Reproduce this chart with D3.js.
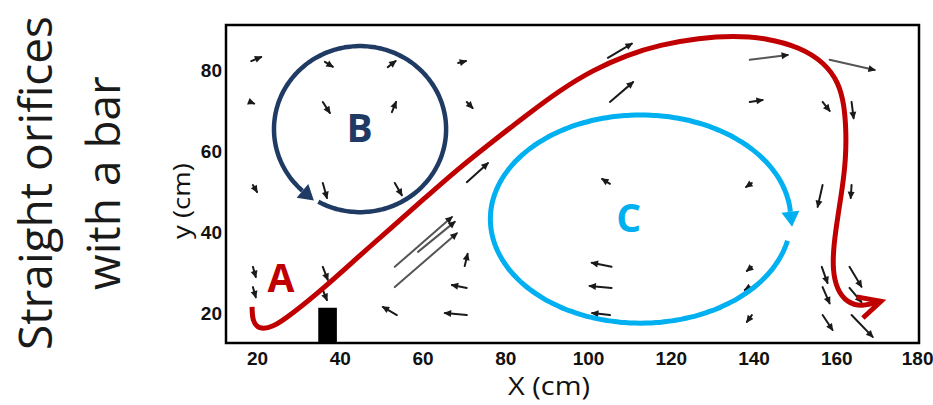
<!DOCTYPE html>
<html>
<head>
<meta charset="utf-8">
<script src="https://cdn.jsdelivr.net/npm/d3@7"></script>
<style>
  body { margin: 0; background: #fff; }
  svg { display: block; }
</style>
</head>
<body>
<div id="chart"></div>
<script>
// axis ticks
var xTicks = [20, 40, 60, 80, 100, 120, 140, 160, 180];
var yTicks = [20, 40, 60, 80];

// flow path A (cm)
var pathAX = [18.8, 18.9, 20.4, 23.6, 28.5, 36.4, 44.4, 52.6, 60.6, 68.6, 77.0, 85.2, 93.2, 101.2, 109.4, 117.3, 127.0, 135.0, 143.2, 151.2, 157.2, 160.6, 161.9, 162.4, 162.3, 161.5, 160.4, 159.4, 159.1, 160.2, 162.6, 166.1, 170.8];
var pathAY = [21.5, 18.0, 16.0, 16.3, 19.8, 26.4, 33.8, 41.2, 48.4, 55.6, 62.4, 68.9, 75.0, 80.0, 83.7, 86.2, 87.9, 88.4, 87.9, 85.6, 81.8, 76.8, 71.5, 65.0, 58.0, 51.0, 44.0, 37.0, 30.6, 25.7, 22.6, 21.5, 22.9];

// recirculation loops B and C (centre, radii in cm, start/end angle in degrees)
var loopNames = ["B", "C"];
var loopCX = [44.9, 112.7];
var loopCY = [65.4, 43.2];
var loopRX = [20.8, 36.3];
var loopRY = [20.5, 25.7];
var loopStart = [119, 12];
var loopEnd = [-228, 356];

// velocity vectors: tail (x, y) and components (u, v), cm
var quiverX = [18.6, 36.4, 51.6, 68.6, 18.8, 35.9, 52.6, 70.7, 19.0, 35.9, 53.3, 70.7, 53.3, 53.3, 58.9, 70.2, 70.7, 53.8, 70.7, 19.0, 19.0, 35.9, 35.9, 104.8, 105.3, 105.3, 139.1, 158.4, 139.1, 156.7, 163.7, 139.6, 156.7, 163.7, 139.6, 139.1, 139.6, 156.5, 156.7, 156.7, 163.2, 163.2, 163.7, 105.7, 105.7, 105.3];
var quiverY = [82.2, 82.0, 80.7, 81.7, 71.9, 72.1, 69.6, 72.1, 51.6, 52.1, 52.1, 52.3, 31.4, 26.4, 35.1, 31.6, 26.2, 19.5, 19.5, 31.4, 26.4, 31.4, 25.7, 83.0, 72.1, 51.9, 82.5, 82.5, 72.1, 72.1, 72.1, 52.1, 51.6, 51.6, 31.4, 26.4, 19.5, 31.4, 26.4, 19.5, 31.4, 26.2, 19.5, 31.4, 26.2, 19.5];
var quiverU = [2.4, 1.9, 1.9, 1.9, 0.5, 1.7, 1.0, 1.4, 1.0, 1.0, 1.7, 5.1, 13.8, 15.0, 8.9, 0.7, -3.6, -3.4, -5.3, 0.7, 0.7, 1.2, 1.0, 5.8, 5.6, -1.9, 9.2, 10.9, 3.1, 1.7, 0.5, -1.4, -1.2, -0.2, -1.2, -1.2, -1.2, 1.4, 1.7, 2.4, 2.9, 2.9, 5.1, -4.8, -5.3, -4.3];
var quiverV = [1.0, -1.2, 1.5, 0.5, -0.2, -2.7, 2.5, -1.5, -1.7, -3.7, -3.0, 4.7, 12.3, 13.3, 7.4, 3.0, 0.7, 2.0, 0.5, -2.5, -2.5, -3.2, -2.5, 3.5, 4.9, 1.2, 1.2, -2.5, 0.5, -2.2, -4.0, -1.0, -5.4, -3.2, -1.0, -0.7, -1.7, -4.0, -4.0, -3.7, -4.9, -3.5, -5.4, 1.0, 0.5, 0.5];

// the bar (cm)
var barX = [34.8, 39.3];
var barTop = 21.3;

// letter labels (cm)
var labelText = ["A", "B", "C"];
var labelX = [25.8, 44.8, 109.8];
var labelY = [25.2, 62.2, 40.0];
var labelColor = ["#c00000", "#1f3b63", "#00b0f0"];

var w = 933;
var h = 405;

var svg = d3.select("#chart")
    .append("svg")
    .attr("width", w)
    .attr("height", h);

var x = d3.scaleLinear().domain([12.5, 180]).range([226, 919]);
var y = d3.scaleLinear().domain([12.6, 91.1]).range([343, 25]);

var defs = svg.append("defs");

defs.append("marker")
    .attr("id", "qhead")
    .attr("markerUnits", "userSpaceOnUse")
    .attr("markerWidth", 10).attr("markerHeight", 10)
    .attr("viewBox", "-6 -4 8 8")
    .attr("refX", 0).attr("refY", 0)
    .attr("orient", "auto")
    .append("path")
    .attr("d", "M-5,-2.8L1,0L-5,2.8Z")
    .attr("fill", "#1a1a1a");

defs.append("marker")
    .attr("id", "headB")
    .attr("markerUnits", "userSpaceOnUse")
    .attr("markerWidth", 20).attr("markerHeight", 20)
    .attr("viewBox", "-2 -10 20 20")
    .attr("refX", 0).attr("refY", 0)
    .attr("orient", "auto")
    .append("path")
    .attr("d", "M0,-9L15,0L0,9Z")
    .attr("fill", "#1f3b63");

defs.append("marker")
    .attr("id", "headC")
    .attr("markerUnits", "userSpaceOnUse")
    .attr("markerWidth", 20).attr("markerHeight", 20)
    .attr("viewBox", "-2 -10 20 20")
    .attr("refX", 0).attr("refY", 0)
    .attr("orient", "auto")
    .append("path")
    .attr("d", "M0,-9L15,0L0,9Z")
    .attr("fill", "#00b0f0");

defs.append("marker")
    .attr("id", "headA")
    .attr("markerUnits", "userSpaceOnUse")
    .attr("markerWidth", 40).attr("markerHeight", 40)
    .attr("viewBox", "-30 -20 40 40")
    .attr("refX", 0).attr("refY", 0)
    .attr("orient", "auto")
    .append("path")
    .attr("d", "M-22,-11L0,0L-22,11")
    .attr("fill", "none")
    .attr("stroke", "#c00000")
    .attr("stroke-width", 5);

// vectors
var quiver = d3.range(quiverX.length);
svg.append("g")
    .selectAll("line")
    .data(quiver)
    .enter()
    .append("line")
    .attr("x1", function (i) { return x(quiverX[i]); })
    .attr("y1", function (i) { return y(quiverY[i]); })
    .attr("x2", function (i) { return x(quiverX[i] + quiverU[i]); })
    .attr("y2", function (i) { return y(quiverY[i] + quiverV[i]); })
    .attr("stroke", function (i) {
        return Math.abs(quiverU[i]) > 8 ? "#555" : "#1a1a1a";
    })
    .attr("stroke-width", 2)
    .attr("stroke-linecap", "round")
    .attr("marker-end", "url(#qhead)");

// bar
svg.append("rect")
    .attr("x", x(barX[0]))
    .attr("y", y(barTop))
    .attr("width", x(barX[1]) - x(barX[0]))
    .attr("height", y(12.6) - y(barTop))
    .attr("fill", "#000");

// loops
var loopLine = d3.line().curve(d3.curveCardinal);
loopNames.forEach(function (name, k) {
    var cx = x(loopCX[k]), cy = y(loopCY[k]);
    var rx = x(loopCX[k] + loopRX[k]) - cx;
    var ry = cy - y(loopCY[k] + loopRY[k]);
    var step = loopEnd[k] > loopStart[k] ? 2 : -2;
    var angles = d3.range(loopStart[k], loopEnd[k], step).concat([loopEnd[k]]);
    var pts = angles.map(function (a) {
        var t = a * Math.PI / 180;
        return [cx + rx * Math.cos(t), cy + ry * Math.sin(t)];
    });
    svg.append("path")
        .attr("d", loopLine(pts))
        .attr("fill", "none")
        .attr("stroke", name == "B" ? "#1f3b63" : "#00b0f0")
        .attr("stroke-width", name == "B" ? 4.5 : 5)
        .attr("marker-end", "url(#head" + name + ")");
});

// path A
var lineA = d3.line()
    .x(function (d, i) { return x(pathAX[i]); })
    .y(function (d, i) { return y(pathAY[i]); })
    .curve(d3.curveBasis);

svg.append("path")
    .attr("d", lineA(pathAX))
    .attr("fill", "none")
    .attr("stroke", "#c00000")
    .attr("stroke-width", 5)
    .attr("marker-end", "url(#headA)");

// frame
svg.append("rect")
    .attr("x", x(12.5))
    .attr("y", y(91.1))
    .attr("width", x(180) - x(12.5))
    .attr("height", y(12.6) - y(91.1))
    .attr("fill", "none")
    .attr("stroke", "#000")
    .attr("stroke-width", 2.5);

// axes
var xAxis = svg.append("g")
    .attr("transform", "translate(0," + y(12.6) + ")")
    .call(d3.axisBottom(x).tickValues(xTicks).tickSize(0).tickPadding(9));
var yAxis = svg.append("g")
    .attr("transform", "translate(" + x(12.5) + ",0)")
    .call(d3.axisLeft(y).tickValues(yTicks).tickSize(0).tickPadding(4));

svg.selectAll(".domain").remove();
svg.selectAll(".tick text")
    .attr("font-family", "'Liberation Sans', Arial, sans-serif")
    .attr("font-weight", "bold")
    .attr("font-size", 19)
    .attr("fill", "#111");

// keep the last x label inside the window
xAxis.selectAll(".tick text")
    .filter(function (d) { return d == 180; })
    .attr("text-anchor", "end")
    .attr("dx", 14);

// letters
svg.append("g")
    .selectAll("text")
    .data(labelText)
    .enter()
    .append("text")
    .attr("x", function (d, i) { return x(labelX[i]); })
    .attr("y", function (d, i) { return y(labelY[i]); })
    .attr("text-anchor", "middle")
    .attr("font-family", "'Open Sans', sans-serif")
    .attr("font-weight", "bold")
    .attr("font-size", 39)
    .attr("fill", function (d, i) { return labelColor[i]; })
    .text(function (d) { return d; });

// axis titles
svg.append("text")
    .attr("x", 549)
    .attr("y", 395)
    .attr("text-anchor", "middle")
    .attr("font-family", "'Open Sans', sans-serif")
    .attr("font-size", 25)
    .attr("fill", "#111")
    .attr("textLength", 82)
    .attr("lengthAdjust", "spacingAndGlyphs")
    .text("X (cm)");

svg.append("text")
    .attr("transform", "translate(190,201) rotate(-90)")
    .attr("text-anchor", "middle")
    .attr("font-family", "'Open Sans', sans-serif")
    .attr("font-size", 24)
    .attr("fill", "#111")
    .attr("textLength", 76)
    .attr("lengthAdjust", "spacingAndGlyphs")
    .text("y (cm)");

// side title
var titleLines = ["Straight orifices", "with a bar"];
svg.append("g")
    .selectAll("text")
    .data(titleLines)
    .enter()
    .append("text")
    .attr("transform", function (d, i) {
        return "translate(" + (52 + i * 68) + ",183) rotate(-90)";
    })
    .attr("text-anchor", "middle")
    .attr("font-family", "'Open Sans', sans-serif")
    .attr("font-size", 46)
    .attr("fill", "#1a1a1a")
    .text(function (d) { return d; });
</script>
</body>
</html>
